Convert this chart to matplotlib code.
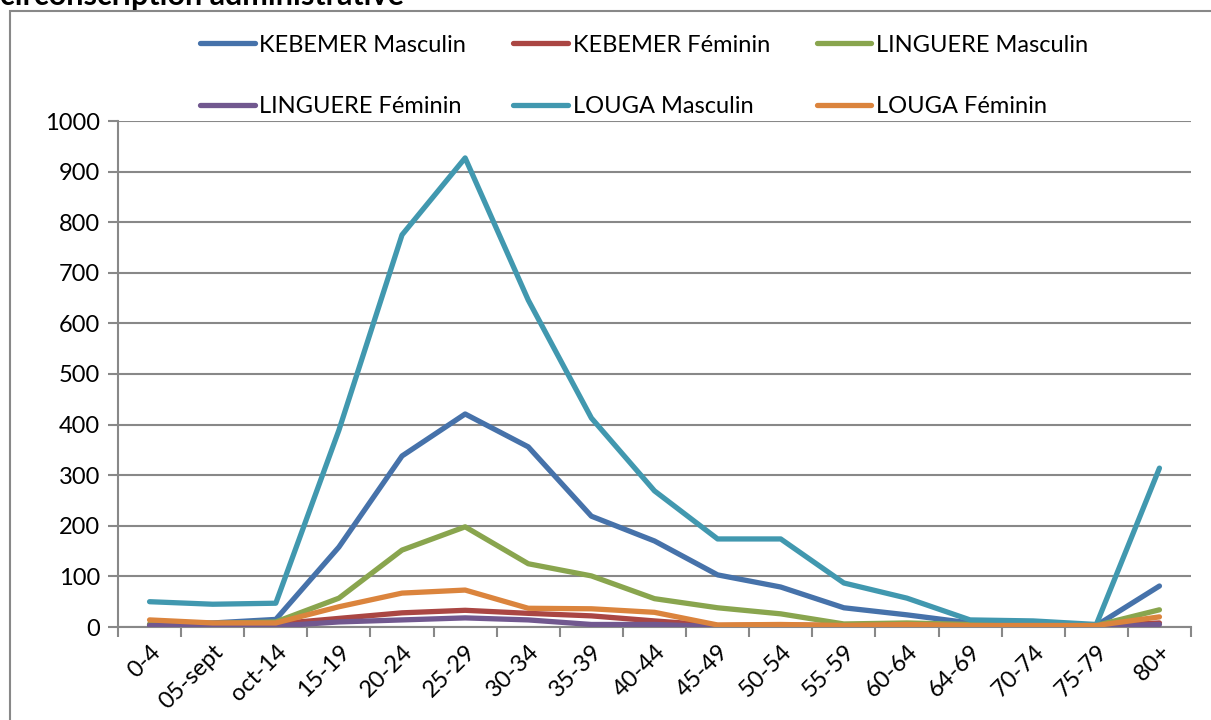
import matplotlib
matplotlib.use("Agg")
import matplotlib.pyplot as plt
from matplotlib.lines import Line2D
from matplotlib.patches import Rectangle

plt.rcParams['font.family'] = ['Lato', 'DejaVu Sans']

categories = ["0-4", "05-sept", "oct-14", "15-19", "20-24", "25-29", "30-34", "35-39",
              "40-44", "45-49", "50-54", "55-59", "60-64", "64-69", "70-74", "75-79", "80+"]

kebemer_m = [5, 8, 15, 158, 338, 421, 356, 219, 170, 103, 79, 38, 24, 8, 5, 3, 81]
kebemer_f = [5, 6, 6, 17, 28, 33, 27, 22, 12, 3, 4, 3, 3, 2, 2, 2, 8]
linguere_m = [5, 7, 10, 57, 152, 198, 125, 101, 56, 38, 26, 6, 8, 5, 4, 3, 34]
linguere_f = [3, 2, 2, 10, 14, 18, 14, 5, 5, 1, 1, 1, 1, 1, 1, 1, 5]
louga_m = [50, 45, 47, 389, 775, 927, 646, 413, 269, 174, 174, 87, 57, 14, 12, 5, 314]
louga_f = [14, 8, 8, 40, 67, 73, 37, 36, 29, 4, 5, 3, 5, 3, 3, 3, 20]

series = [
    ("KEBEMER Masculin", kebemer_m, "#4672AA"),
    ("KEBEMER Féminin", kebemer_f, "#AA4643"),
    ("LINGUERE Masculin", linguere_m, "#89A54E"),
    ("LINGUERE Féminin", linguere_f, "#71588F"),
    ("LOUGA Masculin", louga_m, "#4198AF"),
    ("LOUGA Féminin", louga_f, "#DB843D"),
]

W, H = 1211, 720
fig = plt.figure(figsize=(W / 100, H / 100), dpi=100)
ax = fig.add_axes([118 / W, 1 - 627 / H, (1191 - 118) / W, (627 - 121) / H])

x = list(range(len(categories)))
for name, vals, col in series:
    ax.plot(x, vals, color=col, lw=3.8, solid_capstyle='round', solid_joinstyle='round', label=name, zorder=3)

ax.set_xlim(-0.5, len(categories) - 0.5)
ax.set_ylim(0, 1000)
ax.set_yticks(range(0, 1001, 100))
ax.yaxis.grid(True, color="#888888", lw=1.5)
ax.set_axisbelow(True)
for s in ["top", "right"]:
    ax.spines[s].set_visible(False)
for s in ["left", "bottom"]:
    ax.spines[s].set_color("#888888")
    ax.spines[s].set_linewidth(1.5)

ax.set_xticks([i - 0.5 for i in range(len(categories) + 1)], minor=False)
ax.set_xticklabels([])
ax.set_xticks(x, minor=True)
ax.set_xticklabels(categories, minor=True, rotation=45, ha='right', va='top',
                   rotation_mode='anchor', fontsize=17)
ax.tick_params(axis='x', which='major', length=7, width=1.5, color="#888888", direction='out')
ax.tick_params(axis='x', which='minor', length=0, pad=10)
ax.tick_params(axis='y', length=7, width=1.5, color="#888888", direction='out', labelsize=17, pad=6)

order = [0, 3, 1, 4, 2, 5]
handles = [Line2D([0], [0], color=series[i][2], lw=3.8, solid_capstyle='round') for i in order]
labels = [series[i][0] for i in order]
fig.legend(handles, labels, ncol=3, loc='center', bbox_to_anchor=(0.532, 1 - 76 / H),
           frameon=False, fontsize=17, handlelength=2.3, handletextpad=0.2,
           columnspacing=2.0, labelspacing=1.73)

fig.patches.append(Rectangle((10 / W, -0.1), 1.2, 1 - 11 / H + 0.1, transform=fig.transFigure,
                             fill=False, edgecolor="#888888", lw=1.5))
fig.text(0, 1 - 5 / H, "circonscription administrative", fontsize=22, fontweight='bold',
         va='baseline', ha='left')

fig.savefig("out.png", dpi=100)
